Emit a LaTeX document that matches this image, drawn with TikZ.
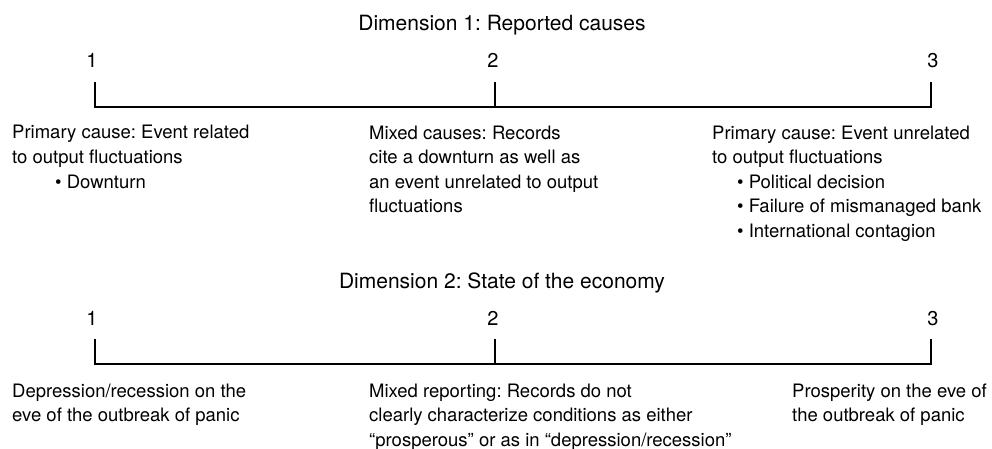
\documentclass[tikz,border=0pt]{standalone}
\usepackage{fontspec}
\setmainfont{TeX Gyre Heros}
\usetikzlibrary{positioning}
\tikzset{
every node/.style={inner sep=0pt, font=\fontsize{18.5}{24.5}\selectfont\frenchspacing},
scaleline/.style={line width=1.5pt, line cap=rect},
title/.style={anchor=base, font=\fontsize{21}{24.5}\selectfont\frenchspacing},
num/.style={anchor=base, font=\fontsize{20}{24.5}\selectfont},
desc/.style={anchor=base west, align=left},
}
\newcommand{\bul}[1]{\hspace*{#1}\textbullet\ }

\begin{document}
\begin{tikzpicture}[x=1pt,y=-1pt]
        \useasboundingbox (0,0) rectangle (992,449);

        % Dimension 1
        \node[title] (d1) at (502,31) {Dimension 1: Reported causes};
        \node[num] (d1n1) at (92,68) {1};
        \node[num] (d1n2) at (493,68) {2};
        \node[num] (d1n3) at (933,68) {3};
        \coordinate (d1t1) at (95,83);
        \coordinate (d1t2) at (495,83);
        \coordinate (d1t3) at (931,83);
        \coordinate (d1a1) at (95,107);
        \coordinate (d1a3) at (931,107);
        \draw[scaleline] (d1t1) -- (d1a1) -- (d1a3) -- (d1t3);
        \draw[scaleline] (d1t2) -- (d1t2 |- d1a1);

        % base anchor sits on the last line
        \node[desc] (d1c1) at (12,188) {Primary cause: Event related\\
            to output fluctuations\\
            \bul{43pt}Downturn};
        \node[desc] (d1c2) at (369,212.5) {Mixed causes: Records\\
            cite a downturn as well as\\
            an event unrelated to output\\
            fluctuations};
        \node[desc] (d1c3) at (712,237) {Primary cause: Event unrelated\\
            to output fluctuations\\
            \bul{25pt}Political decision\\
            \bul{25pt}Failure of mismanaged bank\\
            \bul{25pt}International contagion};

        % Dimension 2
        \node[title] (d2) at (502,288) {Dimension 2: State of the economy};
        \node[num] (d2n1) at (92,325) {1};
        \node[num] (d2n2) at (493,325) {2};
        \node[num] (d2n3) at (933,325) {3};
        \coordinate (d2t1) at (95,340);
        \coordinate (d2t2) at (495,340);
        \coordinate (d2t3) at (931,340);
        \coordinate (d2a1) at (95,364);
        \coordinate (d2a3) at (931,364);
        \draw[scaleline] (d2t1) -- (d2a1) -- (d2a3) -- (d2t3);
        \draw[scaleline] (d2t2) -- (d2t2 |- d2a1);

        \node[desc] (d2c1) at (12,421.5) {Depression/recession on the\\
            eve of the outbreak of panic};
        \node[desc] (d2c2) at (369,446) {Mixed reporting: Records do not\\
            clearly characterize conditions as either\\
            ``prosperous'' or as in ``depression/recession''};
        \node[desc] (d2c3) at (792,421.5) {Prosperity on the eve of\\
            the outbreak of panic};
    \end{tikzpicture}
\end{document}
